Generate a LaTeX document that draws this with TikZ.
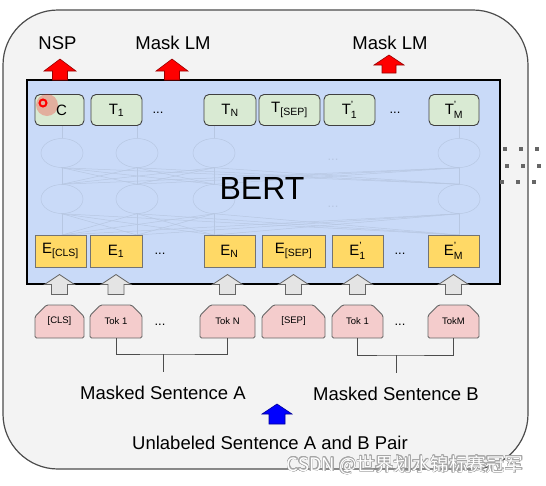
\documentclass[tikz,border=0pt]{standalone}
\usepackage{fontspec}
\usepackage{amsmath}
\usepackage{contour}
\setmainfont{Liberation Sans}
\newfontfamily\cjkfont{Noto Sans CJK SC}
\usetikzlibrary{shapes.misc,shapes.geometric}
\definecolor{panelgray}{HTML}{F3F3F3}
\definecolor{bertblue}{HTML}{C9DAF8}
\definecolor{outgreen}{HTML}{D9EAD3}
\definecolor{embyellow}{HTML}{FFD966}
\definecolor{tokpink}{HTML}{F4CCCC}
\definecolor{meshblue}{HTML}{B7C7E2}
\definecolor{arrowgray}{HTML}{E4E4E4}
\contourlength{0.5pt}
% block arrow pointing up: style, base point, bottom/head/tip offsets, half head, half shaft
\newcommand{\blockup}[7]{%
  \draw[#1] ([shift={(-#7,-#3)}]#2) -- ([shift={(-#7,-#4)}]#2) -- ([shift={(-#6,-#4)}]#2)
    -- ([shift={(0,-#5)}]#2) -- ([shift={(#6,-#4)}]#2) -- ([shift={(#7,-#4)}]#2)
    -- ([shift={(#7,-#3)}]#2) -- cycle;}
\begin{document}
\begin{tikzpicture}[x=1pt,y=-1pt,
  outnode/.style={draw=black!75,fill=outgreen,rounded corners=5pt,line width=0.9pt,
    minimum height=31pt,inner sep=0pt,font=\fontsize{15}{18}\selectfont},
  embnode/.style={draw=black!55,fill=embyellow,line width=0.9pt,
    minimum height=32pt,inner sep=0pt,font=\fontsize{15}{18}\selectfont},
  toknode/.style={chamfered rectangle,chamfered rectangle corners={north west,north east},
    chamfered rectangle sep=7pt,rounded corners=1.5pt,draw=black!60,fill=tokpink,line width=0.9pt,
    minimum height=33pt,inner sep=0pt,font=\fontsize{9.5}{11}\selectfont},
  meshnode/.style={ellipse,draw=meshblue,line width=0.5pt,minimum width=42pt,minimum height=29pt,inner sep=0pt},
  meshline/.style={draw=meshblue,line width=0.5pt},
  biglabel/.style={anchor=base,font=\fontsize{18.5}{22}\selectfont},
  dots/.style={font=\fontsize{13}{15}\selectfont},
  redarr/.style={fill=red,draw=red!60!black,line width=0.6pt},
  grayarr/.style={fill=arrowgray,draw=black!60,line width=0.8pt},
  bluearr/.style={fill=blue,draw=blue!60!black,line width=0.6pt},
  bracket/.style={draw=black!70,line width=1pt}]
 \fill[white] (0,0) rectangle (546,485);
 \useasboundingbox (0,0) rectangle (546,485);
 \draw[fill=panelgray,draw=black!70,line width=1.2pt,rounded corners=55pt] (3,10) rectangle (528,469);
 \draw[fill=bertblue,draw=black,line width=2.5pt] (27,80) rectangle (500,284);

 % hidden layers
 \foreach \x [count=\i] in {62,137,214,459} {
   \node[meshnode] (hu\i) at (\x,153) {};
   \node[meshnode] (hl\i) at (\x,199) {};
   \coordinate (hin\i) at (\x,235);
   \coordinate (hout\i) at (\x,126);
 }
 \foreach \i in {1,...,4} {
   \draw[meshline] (hu\i.north) -- (hout\i);
   \foreach \j in {1,...,4} {
     \draw[meshline] (hl\i.north) -- (hu\j.south);
     \draw[meshline] (hin\i) -- (hl\j.south);
   }
 }
 \node[dots,text=meshblue] (hdu) at (333,160) {...};
 \node[dots,text=meshblue] (hdl) at (333,207) {...};
 \node[anchor=base,font=\fontsize{32}{36}\selectfont] (bert) at (262,199) {BERT};

 % output row
 \node[outnode,minimum width=49pt] (c) at (59.5,110) {\hspace{4pt}C};
 \node[outnode,minimum width=51pt] (t1) at (116.5,110) {$\text{T}_{\text{1}}$};
 \node[dots] (tdots) at (158,113) {...};
 \node[outnode,minimum width=52pt] (tn) at (230,110) {$\text{T}_{\text{N}}$};
 \node[outnode,minimum width=61pt] (tsep) at (289.5,110) {$\text{T}_{\text{[SEP]}}$};
 \node[outnode,minimum width=51pt] (t1b) at (349.5,110) {$\text{T}_{\text{1}}^{\text{'}}$};
 \node[dots] (tdotsb) at (395,113) {...};
 \node[outnode,minimum width=50pt] (tmb) at (454,110) {$\text{T}_{\text{M}}^{\text{'}}$};

 % embedding row
 \node[embnode,minimum width=51pt] (ecls) at (60.5,251) {$\text{E}_{\text{[CLS]}}$};
 \node[embnode,minimum width=52pt] (e1) at (116,251) {$\text{E}_{\text{1}}$};
 \node[dots] (edots) at (160,254) {...};
 \node[embnode,minimum width=51pt] (en) at (229.5,251) {$\text{E}_{\text{N}}$};
 \node[embnode,minimum width=63pt] (esep) at (293.5,251) {$\text{E}_{\text{[SEP]}}$};
 \node[embnode,minimum width=51pt] (e1b) at (357.5,251) {$\text{E}_{\text{1}}^{\text{'}}$};
 \node[dots] (edotsb) at (400,254) {...};
 \node[embnode,minimum width=51pt] (emb) at (453.5,251) {$\text{E}_{\text{M}}^{\text{'}}$};

 % input tokens
 \node[toknode,minimum width=49pt] (cls) at (59.5,321.5) {[CLS]};
 \node[toknode,minimum width=52pt] (tok1) at (116,321.5) {Tok 1};
 \node[dots] (kdots) at (160,325) {...};
 \node[toknode,minimum width=55pt] (tokn) at (227.5,321.5) {Tok N};
 \node[toknode,minimum width=63pt] (sep) at (293.5,321.5) {[SEP]};
 \node[toknode,minimum width=51pt] (tok1b) at (357.5,321.5) {Tok 1};
 \node[dots] (kdotsb) at (400,325) {...};
 \node[toknode,minimum width=51pt] (tokm) at (453.5,321.5) {TokM};

 \blockup{grayarr}{cls.north}{10}{20}{30}{15}{8}
 \blockup{grayarr}{tok1.north}{10}{20}{30}{15}{8}
 \blockup{grayarr}{tokn.north}{10}{20}{30}{15}{8}
 \blockup{grayarr}{sep.north}{10}{20}{30}{15}{8}
 \blockup{grayarr}{tok1b.north}{10}{20}{30}{15}{8}
 \blockup{grayarr}{tokm.north}{10}{20}{30}{15}{8}

 % task heads
 \node[biglabel] (nsp) at (57.5,49) {NSP};
 \node[biglabel] (mlm) at (173,49) {Mask LM};
 \node[biglabel] (mlmb) at (390,49) {Mask LM};
 \coordinate (nspfoot) at (60,80);
 \coordinate (mlmfoot) at (172,80);
 \coordinate (mlmbfoot) at (389,73);
 \blockup{redarr}{nspfoot}{0}{9}{21}{16}{7.5}
 \blockup{redarr}{mlmfoot}{0}{9}{21}{16}{7.5}
 \blockup{redarr}{mlmbfoot}{0}{8}{18}{15}{7}

 % sentences
 \node[biglabel] (senta) at (163,399) {Masked Sentence A};
 \node[biglabel] (sentb) at (396,400) {Masked Sentence B};
 \coordinate (ja) at (163,354);
 \coordinate (jaend) at (163,372);
 \coordinate (jb) at (396,355);
 \coordinate (jbend) at (396,373);
 \draw[bracket] (tok1.south) |- (ja) -| (tokn.south);
 \draw[bracket] (ja) -- (jaend);
 \draw[bracket] (tok1b.south) |- (jb) -| (tokm.south);
 \draw[bracket] (jb) -- (jbend);

 \node[biglabel] (pair) at (270,449) {Unlabeled Sentence A and B Pair};
 \coordinate (pairfoot) at (277,424);
 \blockup{bluearr}{pairfoot}{0}{10}{20}{15}{8}

 % pointer mark
 \fill[red,opacity=0.25] (47,105) circle (11);
 \draw[red,line width=2pt] (43,103) circle (3.5);

 % side dots
 \foreach \x/\y in {505/149,521/149,537/149,507/166,523/166,539/166,502/182,518/182,534/182}
   \fill[black!60] (\x-1.6,\y-1.6) rectangle (\x+1.6,\y+1.6);

 \node[anchor=base,font=\cjkfont\fontsize{18.5}{22}\selectfont] (mark) at (405,471)
   {\contour{black!35}{\textcolor{white}{CSDN @世界划水锦标赛冠军}}};
\end{tikzpicture}
\end{document}
